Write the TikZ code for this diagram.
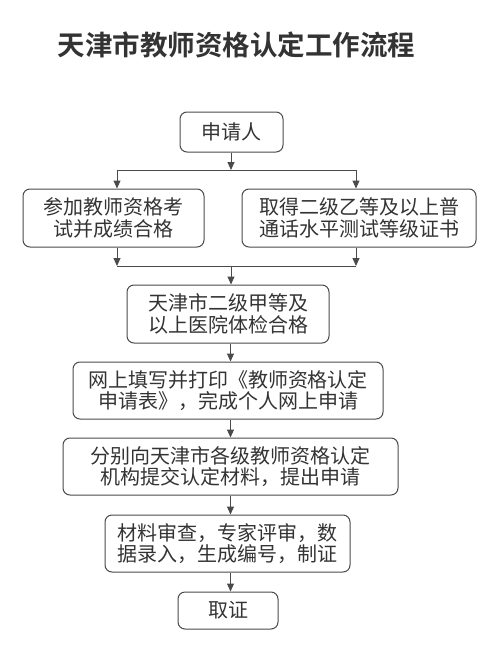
\documentclass[tikz,border=0pt]{standalone}
\usepackage{fontspec}
\newfontfamily\cjk[BoldFont={Noto Sans CJK SC Bold}]{Noto Sans CJK SC}
\usetikzlibrary{arrows.meta}
\definecolor{ln}{HTML}{4A4A4A}
\definecolor{tx}{HTML}{333333}
\tikzset{
  box/.style={draw=ln, line width=1pt, rounded corners=7pt, inner sep=0pt, align=center,
    text=tx, font=\cjk\fontsize{20}{21.5}\selectfont},
  arr/.style={draw=ln, line width=1pt, -{Triangle[length=8pt,width=7pt]}},
  ln/.style={draw=ln, line width=1pt}
}
\begin{document}
\begin{tikzpicture}[x=1pt,y=-1pt]
\useasboundingbox (0,0) rectangle (490,651);
\node[text=tx, font=\cjk\bfseries\fontsize{27.5}{29}\selectfont] (title) at (236.5,45) {天津市教师资格认定工作流程};
\node[box, minimum width=103pt, minimum height=40pt] (b1) at (231.5,132) {申请人};
\node[box, minimum width=181pt, minimum height=58pt] (b2l) at (113.5,218) {参加教师资格考\\试并成绩合格};
\node[box, minimum width=234pt, minimum height=58pt] (b2r) at (359,218) {取得二级乙等及以上普\\通话水平测试等级证书};
\node[box, minimum width=202pt, minimum height=58pt] (b3) at (228,314) {天津市二级甲等及\\以上医院体检合格};
\node[box, minimum width=310pt, minimum height=57pt] (b4) at (228,390.5) {网上填写并打印《教师资格认定\\申请表》，完成个人网上申请};
\node[box, minimum width=335pt, minimum height=57pt] (b5) at (230.5,466.5) {分别向天津市各级教师资格认定\\机构提交认定材料，提出申请};
\node[box, minimum width=245pt, minimum height=57pt] (b6) at (227.5,543.5) {材料审查，专家评审，数\\据录入，生成编号，制证};
\node[box, minimum width=100pt, minimum height=37pt] (b7) at (228,610.5) {取证};
% split
\coordinate (s1) at (231,170);
\coordinate (sl) at (117,170);
\coordinate (sr) at (356,170);
\draw[arr] (b1.south -| s1) -- (s1);
\draw[ln] (sl) -- (sr);
\draw[arr] (sl) -- (sl |- b2l.north);
\draw[arr] (sr) -- (sr |- b2r.north);
% merge
\coordinate (m1) at (231,266);
\coordinate (ml) at (117,266);
\coordinate (mr) at (356,266);
\draw[arr] (ml |- b2l.south) -- (ml);
\draw[arr] (mr |- b2r.south) -- (mr);
\draw[ln] (ml) -- (mr);
\draw[arr] (m1) -- (m1 |- b3.north);
% spine
\coordinate (sp) at (230.5,0);
\draw[arr] (sp |- b3.south) -- (sp |- b4.north);
\draw[arr] (sp |- b4.south) -- (sp |- b5.north);
\draw[arr] (sp |- b5.south) -- (sp |- b6.north);
\draw[arr] (sp |- b6.south) -- (sp |- b7.north);
\end{tikzpicture}
\end{document}
